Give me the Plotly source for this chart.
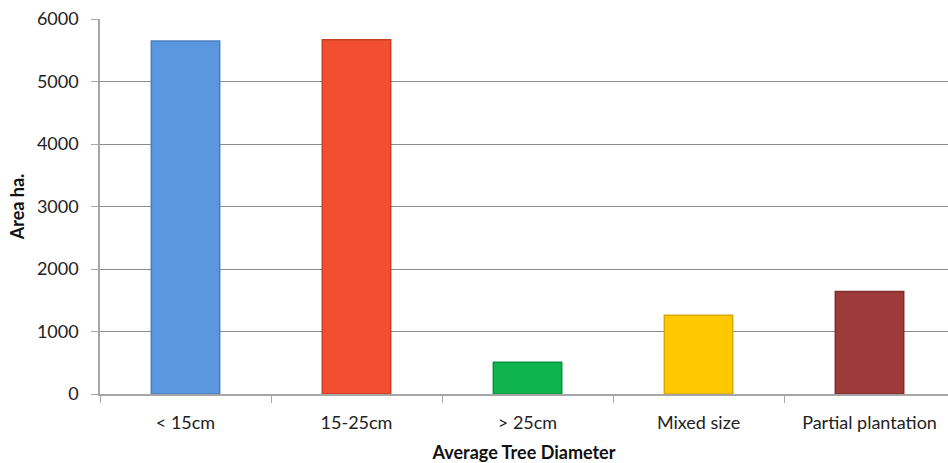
import plotly.graph_objects as go

categories = ["< 15cm", "15-25cm", "> 25cm", "Mixed size", "Partial plantation"]
values = [5650, 5670, 510, 1260, 1640]
colors = ["#5B97DE", "#F24E30", "#10B44E", "#FFC800", "#9E3A3A"]
edge_colors = ["#4A7FC0", "#C9401F", "#0C9040", "#D9A800", "#7E2C2C"]
yticks = [0, 1000, 2000, 3000, 4000, 5000, 6000]

FONT = "Lato"

fig = go.Figure()
fig.add_trace(go.Bar(
    x=categories, y=values,
    marker=dict(color=colors, line=dict(color=edge_colors, width=1.5)),
    width=0.40,
))

fig.update_layout(
    width=948, height=463,
    margin=dict(l=100, r=0, t=19, b=69),
    plot_bgcolor="white", paper_bgcolor="white",
    showlegend=False,
    font=dict(family=FONT, size=18, color="#222222"),
    xaxis=dict(
        range=[-0.5, 4.459],
        automargin=False,
        showline=True, linecolor="#A6A6A6", linewidth=1.5,
        ticks="outside", tickson="boundaries", ticklen=7, tickcolor="#A6A6A6",
        ticklabelstandoff=12,
        tickfont=dict(family=FONT, size=18, color="#222222"),
        title=dict(text="<b>Average Tree Diameter</b>", font=dict(family=FONT, size=18, color="#111111"), standoff=16),
        showgrid=False,
    ),
    yaxis=dict(
        range=[0, 6000], tickvals=yticks,
        automargin=False,
        showline=True, linecolor="#A6A6A6", linewidth=1.5,
        ticks="outside", ticklen=7, tickcolor="#A6A6A6",
        ticklabelstandoff=9,
        showgrid=True, gridcolor="#8C8C8C", gridwidth=1,
        tickfont=dict(family=FONT, size=18, color="#222222"),
        title=dict(text="<b>Area ha.</b>", font=dict(family=FONT, size=18, color="#111111"), standoff=8),
        zeroline=False,
    ),
)

fig.write_html("out.html")
